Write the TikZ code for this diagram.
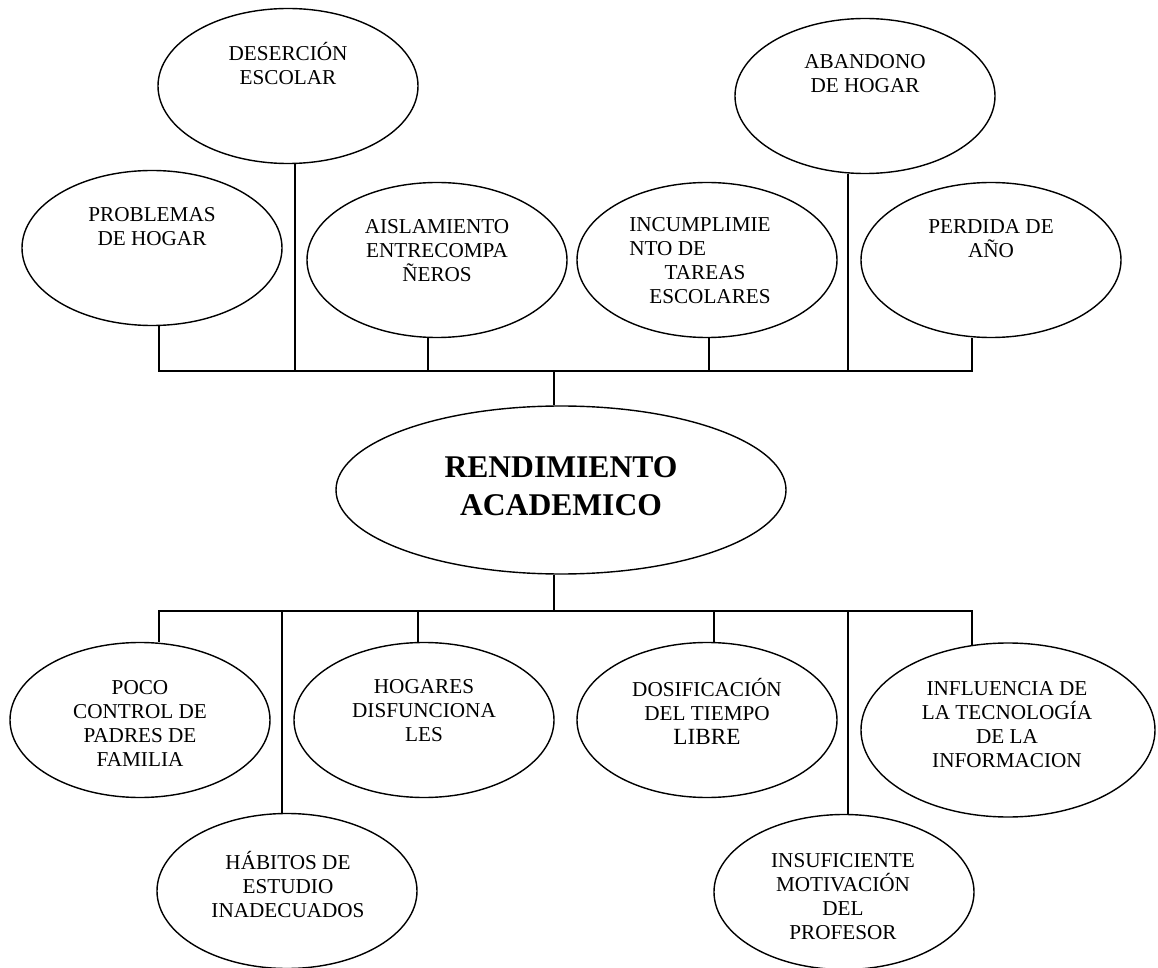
\documentclass[tikz,border=0pt]{standalone}
\usepackage{fontspec}
\setmainfont{Liberation Serif}
\usepackage{tikz}
\usetikzlibrary{shapes.geometric,positioning}

\tikzset{
  cause/.style={draw, ellipse, line width=0.7pt, minimum width=130pt, minimum height=77.5pt, inner sep=0pt},
  causetxt/.style={align=center, inner sep=0pt, font=\fontsize{10.6}{12}\selectfont},
  link/.style={line width=0.7pt}
}

\begin{document}
\begin{tikzpicture}[x=0.5pt, y=-0.5pt]
        \useasboundingbox (0,0) rectangle (1158,968);

        % ============================================================
        % Central node
        % ============================================================
        \node[cause, minimum width=225pt, minimum height=84pt] (rend) at (561,490) {};
        \node[causetxt, font=\fontsize{15.8}{19}\selectfont\bfseries] (rend-t) at (561,486) {RENDIMIENTO\\ACADEMICO};

        \coordinate (tbus) at (554,371);
        \coordinate (bbus) at (554,611);

        % ============================================================
        % Upper causes
        % ============================================================
        \node[cause] (prob) at (152,248) {};
        \node[causetxt] (prob-t) at (152,227) {PROBLEMAS\\DE HOGAR};

        \node[cause] (des) at (288,86) {};
        \node[causetxt] (des-t) at (288,64) {DESERCIÓN\\ESCOLAR};

        \node[cause] (aisl) at (437,260) {};
        \node[causetxt] (aisl-t) at (437,251) {AISLAMIENTO\\ENTRECOMPA\\ÑEROS};

        \node[cause] (incu) at (707,260) {};
        \node[causetxt] (incu-t) at (700,263) {\begin{tabular}{@{}l@{}}INCUMPLIMIE\\NTO DE\\\multicolumn{1}{@{}c@{}}{\hspace{5pt}TAREAS}\\\multicolumn{1}{@{}c@{}}{\hspace{10pt}ESCOLARES}\end{tabular}};

        \node[cause] (aban) at (865,96) {};
        \node[causetxt] (aban-t) at (865,74) {ABANDONO\\DE HOGAR};

        \node[cause] (perd) at (991,260) {};
        \node[causetxt] (perd-t) at (991,239) {PERDIDA DE\\AÑO};

        \draw[link] ([xshift=3.5pt]prob.south) |- (tbus);
        \draw[link] ([xshift=3.5pt]des.south) |- (tbus);
        \draw[link] ([xshift=-4.5pt]aisl.south) |- (tbus);
        \draw[link] ([xshift=1pt]incu.south) |- (tbus);
        \draw[link] ([xshift=-8.5pt]aban.south) |- (tbus);
        \draw[link] ([xshift=-9.5pt]perd.south) |- (tbus);
        \draw[link] (tbus) -- (tbus |- rend.north);

        % ============================================================
        % Lower causes
        % ============================================================
        \node[cause] (poco) at (140,720) {};
        \node[causetxt] (poco-t) at (140,723) {POCO\\CONTROL DE\\PADRES DE\\FAMILIA};

        \node[cause] (habi) at (287,891) {};
        \node[causetxt] (habi-t) at (288,885) {HÁBITOS DE\\ESTUDIO\\INADECUADOS};

        \node[cause] (hoga) at (424,720) {};
        \node[causetxt] (hoga-t) at (424,711) {HOGARES\\DISFUNCIONA\\LES};

        \node[cause] (dosi) at (707,720) {};
        \node[causetxt] (dosi-t) at (707,711) {DOSIFICACIÓN\\DEL TIEMPO\\{\fontsize{11.6}{12}\selectfont LIBRE}};

        \node[cause] (insu) at (844,892) {};
        \node[causetxt] (insu-t) at (843,897) {INSUFICIENTE\\MOTIVACIÓN\\DEL\\PROFESOR};

        \node[cause, minimum width=147pt, minimum height=87pt] (infl) at (1008,730) {};
        \node[causetxt] (infl-t) at (1007,725) {INFLUENCIA DE\\LA TECNOLOGÍA\\DE LA\\INFORMACION};

        \draw[link] (bbus |- rend.south) -- (bbus);
        \draw[link] (bbus) -| ([xshift=9.5pt]poco.north);
        \draw[link] (bbus) -| ([xshift=-2.5pt]habi.north);
        \draw[link] (bbus) -| ([xshift=-3pt]hoga.north);
        \draw[link] (bbus) -| ([xshift=3.5pt]dosi.north);
        \draw[link] (bbus) -| ([xshift=2pt]insu.north);
        \draw[link] (bbus) -| ([xshift=-18pt,yshift=-1.3pt]infl.north);

\end{tikzpicture}
\end{document}
